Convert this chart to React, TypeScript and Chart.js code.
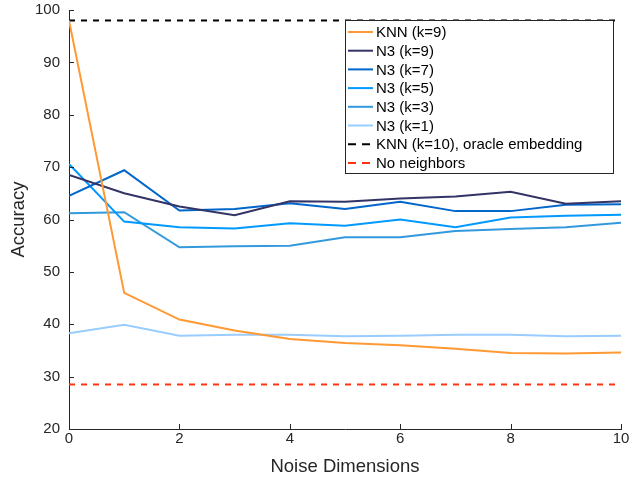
import React, { useEffect, useRef } from "react";
import { Chart, registerables } from "chart.js";

Chart.register(...registerables);

const noiseDims = [0, 1, 2, 3, 4, 5, 6, 7, 8, 9, 10];
const knnK9 = [98, 46.0, 40.9, 38.8, 37.2, 36.4, 36.0, 35.3, 34.5, 34.4, 34.6];
const n3K9 = [68.5, 65.0, 62.5, 60.8, 63.5, 63.4, 64.0, 64.4, 65.3, 63.0, 63.5];
const n3K7 = [64.5, 69.4, 61.7, 62.0, 63.1, 62.0, 63.4, 61.6, 61.6, 62.8, 62.9];
const n3K5 = [70.6, 59.6, 58.5, 58.3, 59.3, 58.8, 60.0, 58.5, 60.4, 60.7, 60.9];
const n3K3 = [61.2, 61.4, 54.7, 54.9, 55.0, 56.6, 56.6, 57.8, 58.2, 58.5, 59.4];
const n3K1 = [38.3, 39.9, 37.8, 38.0, 38.0, 37.7, 37.8, 38.0, 38.0, 37.7, 37.8];
const oracleValue = 98;
const noNeighborsValue = 28.5;
const xTicks = [0, 2, 4, 6, 8, 10];
const yTicks = [20, 30, 40, 50, 60, 70, 80, 90, 100];

const FONT = "'Liberation Sans', Arial, Helvetica, sans-serif";
const AXIS = "#262626";

const toPts = (ys: number[]) => ys.map((y, i) => ({ x: noiseDims[i], y }));
const flat = (v: number) => [
  { x: noiseDims[0], y: v },
  { x: noiseDims[noiseDims.length - 1], y: v },
];

const tickPlugin = {
  id: "inwardTicks",
  afterDraw(chart: any) {
    const { ctx, chartArea, scales } = chart;
    ctx.save();
    ctx.strokeStyle = AXIS;
    ctx.lineWidth = 1;
    ctx.beginPath();
    for (const t of xTicks) {
      const px = Math.round(scales.x.getPixelForValue(t)) + 0.5;
      ctx.moveTo(px, chartArea.bottom);
      ctx.lineTo(px, chartArea.bottom - 5);
    }
    for (const t of yTicks) {
      const py = Math.round(scales.y.getPixelForValue(t)) + 0.5;
      ctx.moveTo(chartArea.left, py);
      ctx.lineTo(chartArea.left + 5, py);
    }
    ctx.stroke();
    ctx.restore();
  },
};

const legendPlugin = {
  id: "insideLegend",
  afterDraw(chart: any) {
    const { ctx, chartArea } = chart;
    const datasets = chart.data.datasets;
    const boxW = 268;
    const rowH = 18.7;
    const padTop = 12;
    const boxH = padTop + rowH * (datasets.length - 1) + 10;
    const right = chartArea.right - 8;
    const left = right - boxW;
    const top = chartArea.top + 10;
    ctx.save();
    ctx.fillStyle = "#ffffff";
    ctx.fillRect(left, top, boxW, boxH);
    ctx.strokeStyle = AXIS;
    ctx.lineWidth = 1;
    ctx.strokeRect(Math.round(left) + 0.5, Math.round(top) + 0.5, boxW, Math.round(boxH));
    ctx.font = `15px ${FONT}`;
    ctx.textBaseline = "middle";
    ctx.textAlign = "left";
    datasets.forEach((ds: any, i: number) => {
      const cy = top + padTop + rowH * i;
      ctx.strokeStyle = ds.borderColor;
      ctx.lineWidth = 2;
      ctx.setLineDash(ds.borderDash ? [8, 6] : []);
      ctx.beginPath();
      ctx.moveTo(left + 3, cy);
      ctx.lineTo(left + (ds.borderDash ? 25 : 28), cy);
      ctx.stroke();
      ctx.setLineDash([]);
      ctx.fillStyle = "#000000";
      ctx.fillText(ds.label, left + 31, cy + 1);
    });
    ctx.restore();
  },
};

export default function App() {
  const ref = useRef<HTMLCanvasElement | null>(null);

  useEffect(() => {
    if (!ref.current) return;
    const mk = (label: string, data: any[], color: string, dash?: number[]) => ({
      label,
      data,
      borderColor: color,
      backgroundColor: color,
      borderWidth: 2,
      borderDash: dash,
      pointRadius: 0,
      fill: false,
      tension: 0,
    });
    const chart = new Chart(ref.current, {
      type: "line",
      data: {
        datasets: [
          mk("KNN (k=9)", toPts(knnK9), "#ff9933"),
          mk("N3 (k=9)", toPts(n3K9), "#333366"),
          mk("N3 (k=7)", toPts(n3K7), "#0066cc"),
          mk("N3 (k=5)", toPts(n3K5), "#0099ff"),
          mk("N3 (k=3)", toPts(n3K3), "#3399dd"),
          mk("N3 (k=1)", toPts(n3K1), "#99ccff"),
          mk("KNN (k=10), oracle embedding", flat(oracleValue), "#000000", [6, 6]),
          mk("No neighbors", flat(noNeighborsValue), "#ff3311", [6, 6]),
        ] as any,
      },
      options: {
        responsive: false,
        animation: false,
        layout: { padding: { left: 0, top: 10, right: 9, bottom: 0 } },
        plugins: { legend: { display: false }, tooltip: { enabled: false } },
        scales: {
          x: {
            type: "linear",
            min: 0,
            max: 10,
            afterBuildTicks: (s: any) => {
              s.ticks = xTicks.map((v) => ({ value: v }));
            },
            afterFit: (s: any) => {
              s.height = 50;
              s.paddingLeft = 0;
              s.paddingRight = 0;
            },
            ticks: { color: AXIS, font: { family: FONT, size: 15 }, padding: 1, maxRotation: 0 },
            grid: { display: false, drawTicks: false },
            border: { display: true, color: AXIS, width: 1 },
            title: {
              display: true,
              text: "Noise Dimensions",
              color: AXIS,
              font: { family: FONT, size: 18.5, lineHeight: 1.2 },
              padding: { top: 0, bottom: 0.5 },
            },
          },
          y: {
            type: "linear",
            min: 20,
            max: 100,
            afterBuildTicks: (s: any) => {
              s.ticks = yTicks.map((v) => ({ value: v }));
            },
            afterFit: (s: any) => {
              s.width = 69;
              s.paddingTop = 0;
              s.paddingBottom = 0;
            },
            ticks: { color: AXIS, font: { family: FONT, size: 15 }, padding: 9 },
            grid: { display: false, drawTicks: false },
            border: { display: true, color: AXIS, width: 1 },
            title: {
              display: true,
              text: "Accuracy",
              color: AXIS,
              font: { family: FONT, size: 18.5, lineHeight: 1.2 },
              padding: { top: 7.4, bottom: 0 },
            },
          },
        },
      } as any,
      plugins: [tickPlugin, legendPlugin],
    });
    return () => chart.destroy();
  }, []);

  return (
    <div style={{ position: "fixed", left: 0, top: 0, width: 630, height: 479, background: "#fff" }}>
      <canvas ref={ref} width={630} height={479} style={{ display: "block", width: 630, height: 479 }} />
    </div>
  );
}
